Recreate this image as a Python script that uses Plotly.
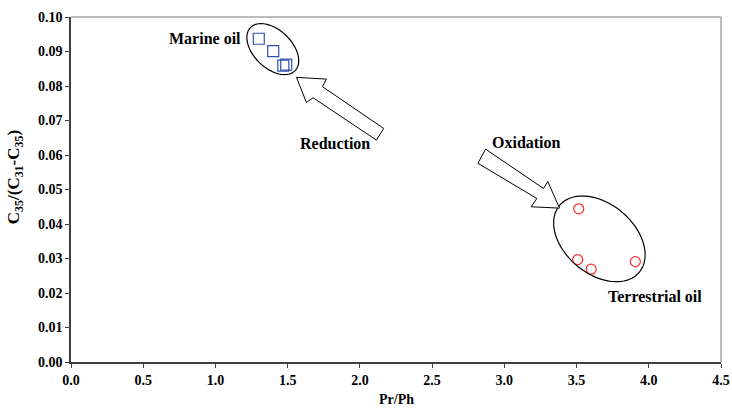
import numpy as np
import plotly.graph_objects as go

# Marine oils (squares)
marine_prph = [1.30, 1.40, 1.47, 1.49]
marine_ratio = [0.0937, 0.0901, 0.0859, 0.0862]

# Terrestrial oils (circles)
terr_prph = [3.515, 3.508, 3.601, 3.907]
terr_ratio = [0.0444, 0.0297, 0.0269, 0.0291]

x_ticks = [0.0, 0.5, 1.0, 1.5, 2.0, 2.5, 3.0, 3.5, 4.0, 4.5]
y_ticks = [0.00, 0.01, 0.02, 0.03, 0.04, 0.05, 0.06, 0.07, 0.08, 0.09, 0.10]

W, H = 732, 412
ML, MR, MT, MB = 71, 11, 17, 50
XR, YR = (0, 4.5), (0, 0.10)
sx = (W - ML - MR) / (XR[1] - XR[0])   # px per x unit
sy = (H - MT - MB) / (YR[1] - YR[0])   # px per y unit

FONT = "Liberation Serif, Times New Roman, serif"


def ellipse_path(cx, cy, a_px, b_px, ang_deg, n=90):
    """Rotated ellipse (axes given in screen pixels) as an SVG path in data coords."""
    t = np.linspace(0, 2 * np.pi, n)
    th = np.deg2rad(ang_deg)
    dx = a_px * np.cos(t) * np.cos(th) - b_px * np.sin(t) * np.sin(th)
    dy = a_px * np.cos(t) * np.sin(th) + b_px * np.sin(t) * np.cos(th)
    xs = cx + dx / sx
    ys = cy - dy / sy  # screen y grows downward
    pts = [f"{x:.4f},{y:.5f}" for x, y in zip(xs, ys)]
    return "M " + " L ".join(pts) + " Z"


def poly_path(pts):
    return "M " + " L ".join(f"{x},{y}" for x, y in pts) + " Z"


reduction_arrow = [(1.561, 0.0825), (1.768, 0.0820), (1.741, 0.0798), (2.165, 0.0677),
                   (2.114, 0.0643), (1.676, 0.0766), (1.630, 0.0752)]
oxidation_arrow = [(2.870, 0.0617), (3.271, 0.0503), (3.301, 0.0523), (3.382, 0.0446),
                   (3.186, 0.0450), (3.225, 0.0474), (2.817, 0.0576)]

fig = go.Figure()

fig.add_trace(go.Scatter(
    x=marine_prph, y=marine_ratio, mode="markers", name="Marine oil",
    marker=dict(symbol="square-open", size=11, color="#3050b0", line=dict(width=1.2)),
))
fig.add_trace(go.Scatter(
    x=terr_prph, y=terr_ratio, mode="markers", name="Terrestrial oil",
    marker=dict(symbol="circle-open", size=10, color="#ff2a2a", line=dict(width=1.2)),
))

shapes = [
    # grey frame on top and right
    dict(type="line", xref="paper", yref="paper", x0=0, x1=1, y0=1, y1=1,
         line=dict(color="#a6a6a6", width=1.5)),
    dict(type="line", xref="paper", yref="paper", x0=1, x1=1, y0=0, y1=1,
         line=dict(color="#a6a6a6", width=1.5)),
    # grouping ellipses
    dict(type="path", xref="x", yref="y", path=ellipse_path(1.397, 0.0907, 31, 19, 44),
         line=dict(color="black", width=1.2)),
    dict(type="path", xref="x", yref="y", path=ellipse_path(3.658, 0.0357, 52, 35, 40),
         line=dict(color="black", width=1.2)),
    # block arrows
    dict(type="path", xref="x", yref="y", path=poly_path(reduction_arrow),
         fillcolor="white", line=dict(color="black", width=1)),
    dict(type="path", xref="x", yref="y", path=poly_path(oxidation_arrow),
         fillcolor="white", line=dict(color="black", width=1)),
]

BOLD = dict(family=FONT, color="black", weight="bold")

# (text, left/right pixel edge, y, anchor)
labels = [
    ("Marine oil", 243, 0.0937, "right"),
    ("Reduction", 372, 0.0634, "right"),
    ("Oxidation", 490, 0.0635, "left"),
    ("Terrestrial oil", 606, 0.0191, "left"),
]
annotations = [
    dict(x=(px - ML) / sx, y=y, text=t, showarrow=False, xanchor=side, yanchor="middle",
         font=dict(BOLD, size=16))
    for t, px, y, side in labels
]

# axis titles
annotations.append(dict(
    xref="paper", yref="paper", x=0.5, y=-0.110, yanchor="middle", text="Pr/Ph",
    showarrow=False, font=dict(BOLD, size=14)))
annotations.append(dict(
    xref="paper", yref="paper", x=-0.085, y=0.535, xanchor="center", yanchor="middle",
    text="C<sub>35</sub>/(C<sub>31</sub>-C<sub>35</sub>)", textangle=-90,
    showarrow=False, font=dict(BOLD, size=17)))

fig.update_layout(
    width=W, height=H,
    margin=dict(l=ML, r=MR, t=MT, b=MB, autoexpand=False),
    paper_bgcolor="white", plot_bgcolor="white",
    showlegend=False,
    shapes=shapes,
    annotations=annotations,
    xaxis=dict(
        range=list(XR), tickvals=x_ticks, ticktext=[f"{v:.1f}" for v in x_ticks],
        showgrid=False, zeroline=False, showline=True, linecolor="#404040", linewidth=1.5,
        ticks="outside", ticklen=4, tickcolor="#404040", automargin=False,
        tickfont=dict(BOLD, size=14),
    ),
    yaxis=dict(
        range=list(YR), tickvals=y_ticks, ticktext=[f"{v:.2f}" for v in y_ticks],
        showgrid=False, zeroline=False, showline=True, linecolor="#404040", linewidth=1.5,
        ticks="outside", ticklen=4, tickcolor="#404040", automargin=False,
        tickfont=dict(BOLD, size=14),
    ),
)

fig.write_html("out.html")
